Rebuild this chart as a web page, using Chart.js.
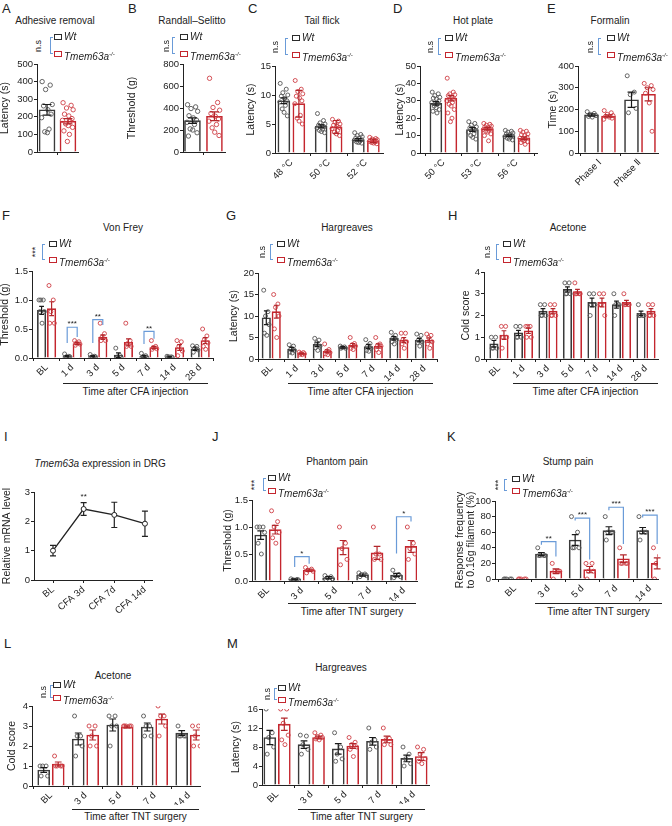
<!DOCTYPE html>
<html lang="en">
<head>
<meta charset="UTF-8">
<title>Tmem63a pain behaviour panels</title>
<script src="https://cdn.jsdelivr.net/npm/chart.js"></script>
<style>
  body { margin: 0; background: #fff; font-family: 'Liberation Sans', Arial, sans-serif; color: #222; }
  #fig { position: relative; width: 672px; height: 826px; overflow: hidden; }
  .abs { position: absolute; white-space: nowrap; line-height: 10px; }
  .letter { font-size: 13px; line-height: 13px; }
  .ttl { font-size: 10px; transform: translateX(-50%); }
  .br { width: 3px; border: 1.2px solid #6a9bd8; border-right: none; box-sizing: border-box; }
  .sig { font-size: 9px; transform: translate(-50%, -50%) rotate(-90deg); }
  .box { width: 8px; height: 6px; box-sizing: border-box; border: 1.4px solid #2b2b2b; }
  .box.tm { border-color: #c4262e; }
  .lgt { font-size: 10px; }
  .sup { font-size: 6px; vertical-align: 4px; font-style: italic; }
  .uline { height: 0; border-top: 1px solid #222; }
</style>
</head>
<body>
<div id="fig"></div>
<script>
// ---- data ----
const CFA_days = ['BL', '1 d', '3 d', '5 d', '7 d', '14 d', '28 d'];
const TNT_days = ['BL', '3 d', '5 d', '7 d', '14 d'];

// A adhesive removal
const A_wtMean = [240], A_wtErr = [30], A_tmMean = [175], A_tmErr = [15];
const A_wtPts = [[400, 380, 355, 270, 262, 240, 215, 195, 130, 115, 110]];
const A_tmPts = [[280, 265, 250, 240, 215, 205, 190, 180, 175, 160, 150, 140, 120, 100, 60]];

// B Randall-Selitto
const B_wtMean = [285], B_wtErr = [25], B_tmMean = [325], B_tmErr = [40];
const B_wtPts = [[430, 410, 395, 370, 330, 310, 290, 270, 250, 210, 200, 175, 145]];
const B_tmPts = [[670, 450, 405, 380, 350, 325, 300, 280, 250, 220, 180, 150]];

// C tail flick
const C_cats = ['48 °C', '50 °C', '52 °C'];
const C_wtMean = [9.0, 4.6, 2.3], C_wtErr = [0.5, 0.25, 0.2];
const C_tmMean = [8.5, 4.5, 2.1], C_tmErr = [2.3, 1.1, 0.3];
const C_wtPts = [[12, 11, 10.4, 10, 9.8, 9.4, 9, 8.8, 8.2, 7.6, 7, 6.4],
                 [6.8, 5.6, 5.2, 5, 4.8, 4.6, 4.5, 4.3, 4.1, 3.9, 3.7, 3.5],
                 [3.5, 3.2, 3, 2.8, 2.6, 2.5, 2.3, 2.2, 2, 1.9, 1.8, 1.7]];
const C_tmPts = [[12.5, 11, 10.6, 10.2, 9.8, 9.5, 9, 8.5, 6.5, 6, 5.5, 5],
                 [5.8, 5.5, 5.3, 5, 4.8, 4.6, 4.4, 4.2, 3.9, 3.6, 3.3, 3],
                 [2.7, 2.5, 2.4, 2.3, 2.2, 2.1, 2, 2, 1.9, 1.8, 1.7, 1.6]];

// D hot plate
const D_cats = ['50 °C', '53 °C', '56 °C'];
const D_wtMean = [28.5, 13.5, 10], D_wtErr = [1, 1.1, 0.5];
const D_tmMean = [31.5, 14, 8.5], D_tmErr = [1.5, 0.7, 0.8];
const D_wtPts = [[35, 34, 33, 32, 31.5, 31, 30, 29, 28, 27, 26, 25, 24, 23],
                 [18, 17, 16, 15, 14.5, 14, 13, 12, 11, 10, 9, 8],
                 [13, 12.5, 12, 11.5, 11, 10.5, 10, 9.5, 9, 8.5, 8, 7.5]];
const D_tmPts = [[43, 35, 34, 33.5, 33, 32, 31, 30, 29, 28, 27, 25, 23, 20, 18],
                 [17, 16.5, 16, 15.5, 15, 14.5, 14, 13.5, 13, 12.5, 12, 11, 10, 7],
                 [13, 12.5, 12, 11, 10.5, 10, 9, 8.5, 8, 7.5, 7, 6.5, 6, 5]];

// E formalin
const E_cats = ['Phase Ⅰ', 'Phase Ⅱ'];
const E_wtMean = [175, 245], E_wtErr = [5, 35];
const E_tmMean = [170, 270], E_tmErr = [5, 30];
const E_wtPts = [[190, 182, 178, 172, 168, 165], [355, 280, 268, 205, 185]];
const E_tmPts = [[195, 185, 178, 172, 168, 165, 160, 155], [320, 310, 300, 292, 275, 230, 100]];

// F von Frey (CFA)
const F_wtMean = [0.82, 0.03, 0.03, 0.05, 0.03, 0.02, 0.16], F_wtErr = [0.07, 0.01, 0.01, 0.04, 0.015, 0.005, 0.03];
const F_tmMean = [0.85, 0.25, 0.36, 0.27, 0.18, 0.18, 0.3], F_tmErr = [0.12, 0.02, 0.04, 0.06, 0.02, 0.05, 0.05];
const F_wtPts = [[1.0, 1.0, 1.0, 0.8, 0.8, 0.6], [0.07, 0.03, 0.02, 0.02, 0.01], [0.06, 0.03, 0.02, 0.02, 0.01],
                 [0.17, 0.04, 0.02, 0.01, 0.0], [0.08, 0.04, 0.02, 0.01, 0.01], [0.03, 0.02, 0.02, 0.01, 0.01],
                 [0.21, 0.2, 0.16, 0.14, 0.1]];
const F_tmPts = [[1.25, 1.0, 0.8, 0.6, 0.6], [0.3, 0.28, 0.26, 0.24, 0.22], [0.6, 0.42, 0.36, 0.3, 0.3],
                 [0.6, 0.3, 0.25, 0.2, 0.2], [0.3, 0.2, 0.18, 0.16, 0.15], [0.3, 0.28, 0.2, 0.12, 0.04],
                 [0.5, 0.38, 0.32, 0.26, 0.2, 0.15]];
const F_sig = [{g: 1, t: '***', top: 0.53, l: 0.26, r: 0.36}, {g: 2, t: '**', top: 0.66, l: 0.26, r: 0.57},
               {g: 4, t: '**', top: 0.46, l: 0.24, r: 0.33}];

// G Hargreaves (CFA)
const G_wtMean = [9.6, 2.3, 3.4, 2.7, 2.9, 4.8, 4.4], G_wtErr = [1.6, 0.4, 0.5, 0.2, 0.5, 0.4, 0.4];
const G_tmMean = [11, 1.3, 1.8, 3.2, 3.0, 4.4, 4.4], G_tmErr = [1.5, 0.1, 0.3, 0.4, 0.5, 0.6, 0.5];
const G_wtPts = [[16, 11, 10, 8, 6, 5.5], [3.3, 3, 2.5, 2, 1.6, 1.4], [4.8, 4.4, 3.8, 3, 2.6, 2],
                 [3, 2.8, 2.7, 2.5, 2.5], [4.5, 3.6, 3, 2.5, 2, 1.8], [6.2, 5.5, 5, 4.5, 4, 3.5],
                 [5.8, 5.5, 4.5, 4, 3.8, 3]];
const G_tmPts = [[15, 12.8, 12, 10, 7, 5], [1.6, 1.5, 1.3, 1.2, 1.1, 1], [3.5, 2.2, 1.8, 1.5, 1.2, 1],
                 [5, 3.6, 3.3, 3, 2.5, 2.2], [5, 3.5, 3.2, 3, 2.2, 1.5], [6, 6, 4.5, 4, 3.5, 2.5],
                 [5.8, 5.5, 5, 4, 3.5, 2.5]];

// H acetone (CFA)
const H_wtMean = [0.7, 1.2, 2.2, 3.2, 2.6, 2.5, 2.1], H_wtErr = [0.15, 0.12, 0.12, 0.12, 0.2, 0.16, 0.1];
const H_tmMean = [1.1, 1.3, 2.2, 3.1, 2.6, 2.6, 2.2], H_tmErr = [0.2, 0.12, 0.12, 0.1, 0.2, 0.1, 0.12];
const H_wtPts = [[1, 1, 0.5, 0.5, 0.5], [1.5, 1.5, 1, 1, 1], [2.5, 2.5, 2, 2, 2], [3.5, 3.5, 3, 3, 3],
                 [3, 3, 2.5, 2.5, 2], [3, 2.5, 2.5, 2.5, 2], [2.5, 2, 2, 2, 2]];
const H_tmPts = [[1.5, 1.5, 1, 1, 0.5], [1.5, 1.5, 1.5, 1, 1], [2.5, 2.5, 2, 2, 2], [3.5, 3, 3, 3, 3],
                 [3, 3, 2.5, 2, 2.5], [3, 2.5, 2.5, 2.5, 2.5], [2.5, 2.5, 2, 2, 2]];

// I qPCR
const I_cats = ['BL', 'CFA 3d', 'CFA 7d', 'CFA 14d'];
const I_mean = [1.0, 2.42, 2.22, 1.92], I_err = [0.18, 0.22, 0.43, 0.43];
const I_sig = [{g: 1, t: '**', top: 2.72}];

// J phantom pain
const J_wtMean = [0.85, 0.03, 0.06, 0.11, 0.11], J_wtErr = [0.08, 0.01, 0.02, 0.02, 0.03];
const J_tmMean = [0.95, 0.2, 0.62, 0.52, 0.64], J_tmErr = [0.08, 0.02, 0.13, 0.12, 0.11];
const J_wtPts = [[1, 1, 1, 0.9, 0.7, 0.5], [0.04, 0.03, 0.02, 0.02, 0.01], [0.1, 0.08, 0.06, 0.04, 0.02],
                 [0.15, 0.13, 0.12, 0.1, 0.08], [0.2, 0.12, 0.1, 0.08, 0.06]];
const J_tmPts = [[1.3, 1.1, 1.0, 0.9, 0.8, 0.7], [0.25, 0.22, 0.2, 0.18, 0.15], [1.0, 0.7, 0.6, 0.4, 0.3],
                 [1.0, 0.5, 0.5, 0.4, 0.4], [1.0, 0.7, 0.6, 0.5, 0.4]];
const J_sig = [{g: 1, t: '*', top: 0.45, l: 0.26, r: 0.32}, {g: 4, t: '*', top: 1.19, l: 0.51, r: 1.1}];

// K stump pain
const K_wtMean = [0, 32, 50, 62, 62], K_wtErr = [0, 2, 7, 5, 4];
const K_tmMean = [0, 10, 12, 26, 20], K_tmErr = [0, 3, 4, 5, 7];
const K_wtPts = [[0, 0, 0, 0, 0], [40, 30, 30, 30, 30], [80, 60, 40, 40, 40], [80, 60, 60, 60, 50], [80, 60, 60, 60, 50]];
const K_tmPts = [[0, 0, 0, 0, 0], [20, 10, 10, 10, 0], [20, 20, 10, 10, 0], [40, 20, 20, 20, 20], [40, 30, 20, 10, 0]];
const K_sig = [{g: 1, t: '**', top: 48, l: 44, r: 29}, {g: 2, t: '***', top: 78, l: 75, r: 25},
               {g: 3, t: '***', top: 92, l: 88, r: 45}, {g: 4, t: '***', top: 82, l: 79, r: 45}];

// L acetone (TNT)
const L_wtMean = [0.8, 2.35, 3.05, 2.95, 2.65], L_wtErr = [0.12, 0.3, 0.3, 0.2, 0.12];
const L_tmMean = [1.1, 2.55, 2.95, 3.35, 2.55], L_tmErr = [0.1, 0.25, 0.05, 0.25, 0.25];
const L_wtPts = [[1, 1, 1, 0.5, 0.5], [3.5, 2.5, 2.5, 2, 1.5], [3.5, 3.5, 3, 3, 2], [3.5, 3, 3, 2.5, 2.5], [3, 2.5, 2.5, 2.5, 2.5]];
const L_tmPts = [[1.5, 1, 1, 1, 1], [3, 3, 2.5, 2, 2], [3, 3, 3, 3, 3], [4, 3.5, 3.5, 3, 2.5], [3, 3, 2.5, 2, 2]];

// M Hargreaves (TNT)
const M_wtMean = [10, 8.5, 7.6, 9.2, 5.6], M_wtErr = [1.5, 0.8, 1.1, 0.8, 0.7];
const M_tmMean = [12.8, 10, 8.2, 9.6, 6], M_tmErr = [1.3, 0.3, 0.5, 0.7, 0.8];
const M_wtPts = [[16, 11, 10, 8, 6.5], [10.5, 10.3, 8.5, 7.5, 6.5], [11, 8, 6.5, 5.5, 5], [12, 9.5, 9, 8, 7.5], [8, 6.5, 5.5, 4.5, 4]];
const M_tmPts = [[16, 16, 13, 10.5, 9.5, 8.5], [11, 10.5, 10.2, 10, 9.7, 9.5], [10, 9, 8.5, 8, 7.5, 6], [12, 9.8, 9.5, 8.5, 8.5], [8, 7.5, 6.5, 5.5, 5, 4.5]];

// horizontal scatter of the dots inside a bar (fraction of half spread)
const JIT = [-0.85, 0.55, -0.25, 0.9, -0.6, 0.15, 0.7, -0.95, 0.35, -0.4, 0.05, 0.8, -0.7, 0.25, -0.1];

Chart.defaults.font.family = "'Liberation Sans', Arial, sans-serif";
Chart.defaults.font.size = 9.5;
Chart.defaults.color = '#222';

const fig = document.getElementById('fig');
function put(html, x, y, cls, extra) {
    const d = document.createElement('div');
    d.className = 'abs ' + (cls || '');
    d.style.left = x + 'px'; d.style.top = y + 'px';
    d.innerHTML = html;
    if (extra) Object.assign(d.style, extra);
    fig.appendChild(d);
    return d;
}
function legend(bx, y1, y2, sig, sigX, brX) {
    put('', brX, y1, 'br', {height: (y2 - y1) + 'px'});
    put(sig, sigX, (y1 + y2) / 2, 'sig');
    put('', bx, y1 - 3, 'box');
    put('<i>Wt</i>', bx + 10, y1 - 5, 'lgt');
    put('', bx, y2 - 3, 'box tm');
    put('<i>Tmem63a</i><span class="sup">-/-</span>', bx + 10, y2 - 5, 'lgt');
}
function underline(x1, x2, y, text, ty) {
    put('', x1, y, 'uline', {width: (x2 - x1) + 'px'});
    put(text, (x1 + x2) / 2, ty - 5, 'ttl');
}

// error bars + significance brackets, drawn through the chart scales
function drawErr(chart, ds) {
    const {ctx, scales: {x, y}} = chart;
    ctx.strokeStyle = ds.errColor; ctx.lineWidth = 1.2;
    ds.data.forEach((d, j) => {
        const e = ds.err[j];
        if (!e) return;
        const px = x.getPixelForValue(d.x);
        const hi = y.getPixelForValue(d.y + e), lo = y.getPixelForValue(Math.max(0, d.y - e));
        ctx.beginPath();
        ctx.moveTo(px, hi); ctx.lineTo(px, lo);
        ctx.moveTo(px - ds.cap, hi); ctx.lineTo(px + ds.cap, hi);
        ctx.moveTo(px - ds.cap, lo); ctx.lineTo(px + ds.cap, lo);
        ctx.stroke();
    });
}
const overlay = {
    id: 'overlay',
    beforeDatasetsDraw(chart) {
        chart.ctx.save();
        chart.data.datasets.forEach(ds => { if (ds.err && ds.type === 'line') drawErr(chart, ds); });
        chart.ctx.restore();
    },
    afterDatasetsDraw(chart, args, opts) {
        const {ctx, scales: {x, y}} = chart;
        ctx.save();
        chart.data.datasets.forEach(ds => { if (ds.err && ds.type === 'bar') drawErr(chart, ds); });
        const off = opts.off || 0;
        (opts.sig || []).forEach(s => {
            const xl = x.getPixelForValue(s.g - off), xr = x.getPixelForValue(s.g + off);
            const yt = y.getPixelForValue(s.top);
            if (s.l != null) {
                ctx.strokeStyle = '#6a9bd8'; ctx.lineWidth = 1.2;
                ctx.beginPath();
                ctx.moveTo(xl, y.getPixelForValue(s.l)); ctx.lineTo(xl, yt);
                ctx.lineTo(xr, yt); ctx.lineTo(xr, y.getPixelForValue(s.r));
                ctx.stroke();
            }
            ctx.fillStyle = '#222';
            ctx.font = "8px 'Liberation Sans', Arial, sans-serif";
            ctx.textAlign = 'center'; ctx.textBaseline = 'middle';
            ctx.fillText(s.t, (xl + xr) / 2, yt - 3);
        });
        ctx.restore();
    }
};

function buildPanel(p) {
    const [cx, cy, cw, ch] = p.box, [x0, x1, yT, yB] = p.plot;
    const cv = document.createElement('canvas');
    cv.width = cw; cv.height = ch;
    cv.style.cssText = `position:absolute;left:${cx}px;top:${cy}px;width:${cw}px;height:${ch}px;`;
    fig.appendChild(cv);

    const gpx = (x1 - x0) / (p.xr[1] - p.xr[0]);
    const off = p.pair || p.line ? 0 : (p.thick + p.gap) / 2 / gpx;
    const spread = p.line ? 0 : p.thick * 0.36 / gpx;
    const posW = g => p.pair ? 0 : g - off;
    const posT = g => p.pair ? 1 : g + off;
    const pts = (groups, pos) => groups.flatMap((vals, g) =>
        vals.map((v, k) => ({x: pos(g) + JIT[k % JIT.length] * spread, y: v})));
    const labels = p.cats || [];
    const tickVals = p.pair ? [0, 1] : labels.map((c, i) => i);

    let datasets;
    if (p.line) {
        datasets = [{
            type: 'line', data: p.wm.map((m, i) => ({x: i, y: m})), err: p.we, errColor: '#222', cap: 3,
            borderColor: '#222', borderWidth: 1.3, tension: 0,
            pointRadius: 2.5, pointBackgroundColor: '#fff', pointBorderColor: '#222', pointBorderWidth: 1
        }];
    } else {
        datasets = [
            {type: 'bar', data: p.wm.map((m, g) => ({x: posW(g), y: m})), err: p.we, errColor: '#1a1a1a',
             cap: p.thick * 0.28, backgroundColor: '#fff', borderColor: '#3a3a3a', borderWidth: 1.6,
             barThickness: p.thick, grouped: false, order: 3},
            {type: 'bar', data: p.tm.map((m, g) => ({x: posT(g), y: m})), err: p.te, errColor: '#b3262b',
             cap: p.thick * 0.28, backgroundColor: '#fff', borderColor: '#c4262e', borderWidth: 1.6,
             barThickness: p.thick, grouped: false, order: 3},
            {type: 'scatter', data: pts(p.wp, posW), pointRadius: p.r || 2, pointBorderWidth: 0.9,
             pointBorderColor: '#555', pointBackgroundColor: 'rgba(255,255,255,0)', order: 1},
            {type: 'scatter', data: pts(p.tp, posT), pointRadius: p.r || 2, pointBorderWidth: 0.9,
             pointBorderColor: '#cf4046', pointBackgroundColor: 'rgba(255,255,255,0)', order: 1}
        ];
    }

    const axisGrid = {display: true, drawOnChartArea: false, drawTicks: true, tickLength: 3, color: '#222', lineWidth: 1};
    new Chart(cv, {
        type: 'scatter',
        data: {datasets},
        options: {
            responsive: false, animation: false, events: [],
            layout: {padding: {left: 0, top: yT - cy, right: cx + cw - x1, bottom: 0}},
            plugins: {legend: {display: false}, tooltip: {enabled: false}, overlay: {sig: p.sig || [], off}},
            scales: {
                x: {
                    type: 'linear', min: p.xr[0], max: p.xr[1], offset: false,
                    afterBuildTicks: s => { s.ticks = tickVals.map(v => ({value: v})); },
                    afterFit: s => { s.height = cy + ch - yB; },
                    grid: axisGrid, border: {display: true, color: '#222', width: 1},
                    ticks: {autoSkip: false, minRotation: p.rot || 0, maxRotation: p.rot || 0, padding: 1,
                            callback: (v, i) => p.pair ? '' : labels[i]}
                },
                y: {
                    type: 'linear', min: 0, max: p.ymax,
                    afterFit: s => { s.width = x0 - cx; },
                    grid: axisGrid, border: {display: true, color: '#222', width: 1},
                    ticks: {stepSize: p.step, padding: 1, callback: v => p.dec ? v.toFixed(1) : v},
                    title: {display: true, text: p.ytitle, padding: 0, font: {size: 10.5, lineHeight: 1.0}}
                }
            }
        },
        plugins: [overlay]
    });
}

const panels = [
    {box: [0, 56, 86, 106], plot: [37, 78, 64, 152], xr: [-0.48, 1.48], ymax: 500, step: 100, pair: true, thick: 16,
     ytitle: 'Latency (s)', wm: A_wtMean, we: A_wtErr, tm: A_tmMean, te: A_tmErr, wp: A_wtPts, tp: A_tmPts, r: 2.2},
    {box: [127, 56, 105, 106], plot: [183, 225, 64, 152], xr: [-0.43, 1.48], ymax: 800, step: 200, pair: true, thick: 16,
     ytitle: 'Threshold (g)', wm: B_wtMean, we: B_wtErr, tm: B_tmMean, te: B_tmErr, wp: B_wtPts, tp: B_tmPts, r: 2.2},
    {box: [246, 58, 144, 135], plot: [275, 383, 66, 153], xr: [-0.44, 2.46], ymax: 15, step: 5, thick: 12, gap: 3, rot: 45,
     cats: C_cats, ytitle: 'Latency (s)', wm: C_wtMean, we: C_wtErr, tm: C_tmMean, te: C_tmErr, wp: C_wtPts, tp: C_tmPts},
    {box: [395, 58, 147, 135], plot: [420, 537, 66, 153], xr: [-0.64, 2.56], ymax: 50, step: 10, thick: 12, gap: 3, rot: 45,
     cats: D_cats, ytitle: 'Latency (s)', wm: D_wtMean, we: D_wtErr, tm: D_tmMean, te: D_tmErr, wp: D_wtPts, tp: D_tmPts},
    {box: [548, 58, 117, 140], plot: [578, 658, 66, 153], xr: [-0.55, 1.45], ymax: 400, step: 100, thick: 14, gap: 3, rot: 45,
     cats: E_cats, ytitle: 'Time (s)', wm: E_wtMean, we: E_wtErr, tm: E_tmMean, te: E_tmErr, wp: E_wtPts, tp: E_tmPts},
    {box: [0, 262, 218, 120], plot: [32, 213, 271, 358], xr: [-0.57, 6.5], ymax: 1.5, step: 0.5, dec: true, thick: 8.5, gap: 1.5, rot: 45,
     cats: CFA_days, ytitle: 'Threshold (g)', wm: F_wtMean, we: F_wtErr, tm: F_tmMean, te: F_tmErr, wp: F_wtPts, tp: F_tmPts, sig: F_sig},
    {box: [229, 264, 213, 118], plot: [258, 438, 273, 359], xr: [-0.52, 6.5], ymax: 20, step: 5, thick: 8.5, gap: 1.5, rot: 45,
     cats: CFA_days, ytitle: 'Latency (s)', wm: G_wtMean, we: G_wtErr, tm: G_tmMean, te: G_tmErr, wp: G_wtPts, tp: G_tmPts},
    {box: [461, 263, 204, 118], plot: [484, 658, 272, 359], xr: [-0.61, 6.49], ymax: 4, step: 1, thick: 8.5, gap: 1.5, rot: 45,
     cats: CFA_days, ytitle: 'Cold score', wm: H_wtMean, we: H_wtErr, tm: H_tmMean, te: H_tmErr, wp: H_wtPts, tp: H_tmPts},
    {box: [2, 483, 158, 135], plot: [34, 152, 492, 580], xr: [-0.62, 3.23], ymax: 3, step: 1, line: true, rot: 40,
     cats: I_cats, ytitle: 'Relative mRNA level', wm: I_mean, we: I_err, sig: I_sig},
    {box: [223, 491, 200, 110], plot: [252, 417, 500, 581], xr: [-0.47, 4.39], ymax: 1.5, step: 0.5, dec: true, thick: 12, gap: 2.5, rot: 45,
     cats: TNT_days, ytitle: 'Threshold (g)', wm: J_wtMean, we: J_wtErr, tm: J_tmMean, te: J_tmErr, wp: J_wtPts, tp: J_tmPts, sig: J_sig},
    {box: [455, 492, 210, 110], plot: [495, 658, 501, 579], xr: [-0.59, 4.24], ymax: 100, step: 20, thick: 12, gap: 2.5, rot: 45,
     cats: TNT_days, ytitle: ['Response frequency', 'to 0.16g filament (%)'], wm: K_wtMean, we: K_wtErr, tm: K_tmMean, te: K_tmErr,
     wp: K_wtPts, tp: K_tmPts, sig: K_sig},
    {box: [7, 697, 200, 108], plot: [32, 200, 706, 786], xr: [-0.55, 4.32], ymax: 4, step: 1, thick: 12, gap: 2.5, rot: 45,
     cats: TNT_days, ytitle: 'Cold score', wm: L_wtMean, we: L_wtErr, tm: L_tmMean, te: L_tmErr, wp: L_wtPts, tp: L_tmPts},
    {box: [231, 700, 205, 104], plot: [262, 429, 709, 785], xr: [-0.44, 4.44], ymax: 16, step: 4, thick: 12, gap: 2.5, rot: 45,
     cats: TNT_days, ytitle: 'Latency (s)', wm: M_wtMean, we: M_wtErr, tm: M_tmMean, te: M_tmErr, wp: M_wtPts, tp: M_tmPts}
];
panels.forEach(buildPanel);

// panel letters
[['A', 2, 2], ['B', 128, 2], ['C', 248, 2], ['D', 393, 2], ['E', 547, 2],
 ['F', 2, 209], ['G', 226, 209], ['H', 448, 209],
 ['I', 4, 430], ['J', 212, 430], ['K', 447, 430],
 ['L', 4, 637], ['M', 227, 637]].forEach(([t, x, y]) => put(t, x, y, 'letter'));

// panel titles (centre x, centre y)
[['Adhesive removal', 55, 21], ['Randall–Selitto', 192, 21], ['Tail flick', 322, 21], ['Hot plate', 473, 21],
 ['Formalin', 610, 21], ['Von Frey', 123, 228], ['Hargreaves', 347, 228], ['Acetone', 568, 228],
 ['<i>Tmem63a</i> expression in DRG', 100, 464], ['Phantom pain', 337, 462], ['Stump pain', 568, 462],
 ['Acetone', 113, 676], ['Hargreaves', 341, 668]].forEach(([t, x, y]) => put(t, x, y - 5, 'ttl'));

// legends
legend(54, 37, 54, 'n.s', 38, 50);
legend(180, 37, 54, 'n.s', 166, 172);
legend(292, 38, 55, 'n.s', 275, 285);
legend(445, 38, 55, 'n.s', 430, 438);
legend(607, 38, 55, 'n.s', 590, 598);
legend(49, 244, 260, '***', 35, 42);
legend(277, 244, 260, 'n.s', 262, 270);
legend(503, 244, 260, 'n.s', 487, 496);
legend(268, 478, 491, '***', 254, 263);
legend(512, 479, 491, '***', 498, 504);
legend(53, 685, 698, 'n.s', 43, 50);
legend(278, 688, 700, 'n.s', 267, 274);

// x grouping lines
underline(63, 208, 383, 'Time after CFA injection', 392);
underline(288, 433, 383, 'Time after CFA injection', 392);
underline(513, 658, 383, 'Time after CFA injection', 392);
underline(288, 416, 603, 'Time after TNT surgery', 612);
underline(535, 662, 603, 'Time after TNT surgery', 612);
underline(72, 199, 809, 'Time after TNT surgery', 817);
underline(298, 425, 809, 'Time after TNT surgery', 817);
</script>
</body>
</html>
